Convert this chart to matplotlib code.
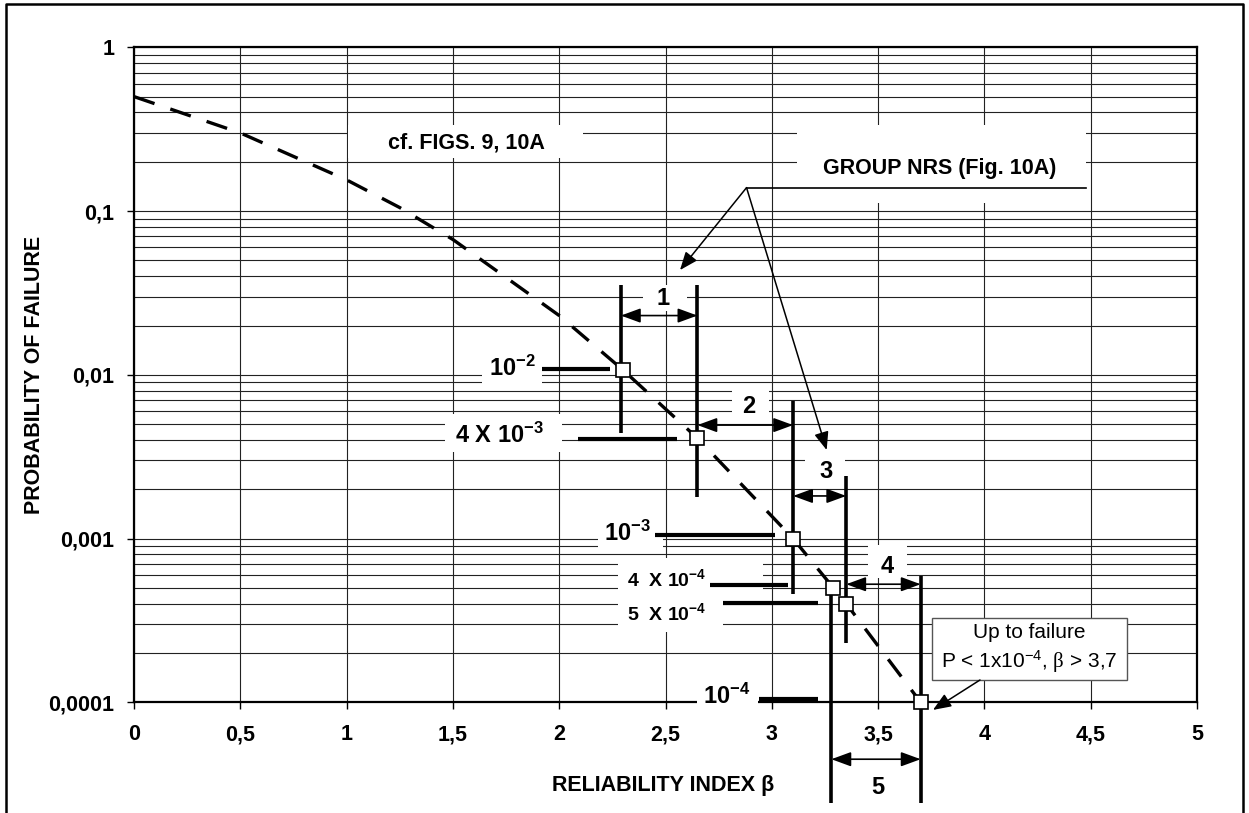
import numpy as np
import matplotlib
matplotlib.use("Agg")
import matplotlib.pyplot as plt
from matplotlib.patches import Rectangle
from matplotlib.lines import Line2D
from matplotlib.ticker import LogLocator, NullFormatter

plt.rcParams['font.family'] = ['Liberation Sans', 'DejaVu Sans']
plt.rcParams['mathtext.fontset'] = 'custom'
plt.rcParams['mathtext.rm'] = 'Liberation Sans'
plt.rcParams['mathtext.bf'] = 'Liberation Sans:bold'
plt.rcParams['mathtext.it'] = 'Liberation Sans:italic'
plt.rcParams['mathtext.sf'] = 'Liberation Serif'

## data
# dashed Pf(beta) curve
curve_beta = [0, 0.5, 1.0, 1.25, 1.5, 2.0, 2.3, 2.65, 3.1, 3.35, 3.7]
curve_pf = [0.5, 0.3, 0.155, 0.105, 0.067, 0.023, 0.0107, 0.0041, 0.001, 0.0004, 0.0001]

# target points (open squares)
point_beta = [2.3, 2.65, 3.1, 3.29, 3.35, 3.7]
point_pf = [0.0107, 0.0041, 0.001, 0.0005, 0.0004, 0.0001]

# target labels and their leader bars
target_labels = [r'$\mathbf{10^{-2}}$', r'$\mathbf{4\ X\ 10^{-3}}$', r'$\mathbf{10^{-3}}$',
                 r'$\mathbf{4\ \ X\ 10^{-4}}$', r'$\mathbf{5\ \ X\ 10^{-4}}$', r'$\mathbf{10^{-4}}$']
label_size = [17, 17, 17, 14, 14, 17]
label_beta = [1.778, 1.717, 2.319, 2.507, 2.507, 2.789]
label_pf = [0.0110, 0.00428, 0.00108, 0.000566, 0.000351, 0.000108]
leader_x0 = [1.917, 2.087, 2.451, 2.709, 2.772, 2.94]
leader_x1 = [2.238, 2.552, 3.016, 3.075, 3.216, 3.215]
leader_pf = [0.0108, 0.00403, 0.00105, 0.00052, 0.000402, 0.000105]

# group boundaries (thick verticals)
bound_beta = [2.29, 2.65, 3.1, 3.35, 3.28, 3.7]
bound_lo = [0.00443, 0.0018, 0.000457, 0.000231, 2.44e-5, 2.44e-5]
bound_hi = [0.0353, 0.0353, 0.00695, 0.0024, 0.000508, 0.00059]

# groups 1..5
groups = ['1', '2', '3', '4', '5']
group_from = [2.29, 2.65, 3.1, 3.35, 3.28]
group_to = [2.65, 3.1, 3.35, 3.7, 3.7]
group_arrow_pf = [0.023, 0.00493, 0.00182, 0.000526, 4.49e-5]
group_label_beta = [2.488, 2.893, 3.253, 3.542, 3.4995]
group_label_pf = [0.0294, 0.00636, 0.00256, 0.000679, 3.0e-5]

# white boxes behind the labels: beta0, beta1, pf_lo, pf_hi
label_boxes = [
    (1.007, 2.112, 0.2109, 0.3354),    # cf. FIGS
    (3.119, 4.478, 0.112, 0.335),      # GROUP NRS
    (1.637, 1.919, 0.00867, 0.01378),  # 10^-2
    (1.463, 2.013, 0.00338, 0.00577),  # 4 X 10^-3
    (2.394, 2.601, 0.02455, 0.0353),   # 1
    (2.813, 2.987, 0.00537, 0.00855),  # 2
    (3.156, 3.345, 0.002094, 0.003475),  # 3
    (3.452, 3.636, 0.000574, 0.000914),  # 4
    (2.183, 2.488, 0.000828, 0.001393),  # 10^-3
    (2.277, 2.959, 0.000485, 0.00076),   # 4 X 10^-4
    (2.277, 2.771, 0.000269, 0.000485),  # 5 X 10^-4
    (2.648, 2.935, 8.75e-5, 0.0001368),  # 10^-4
]

x_ticks = [0, 0.5, 1, 1.5, 2, 2.5, 3, 3.5, 4, 4.5, 5]
x_ticklabels = ['0', '0,5', '1', '1,5', '2', '2,5', '3', '3,5', '4', '4,5', '5']
y_ticks = [1e-4, 1e-3, 1e-2, 1e-1, 1]
y_ticklabels = ['0,0001', '0,001', '0,01', '0,1', '1']

fig = plt.figure(figsize=(12.49, 8.13), dpi=100)
ax = fig.add_axes([0.1073, 0.1362, 0.8511, 0.8056])

ax.set_yscale('log')
ax.set_xlim(0, 5)
ax.set_ylim(1e-4, 1)
ax.set_xticks(x_ticks)
ax.set_xticklabels(x_ticklabels, fontweight='bold')
ax.set_yticks(y_ticks)
ax.set_yticklabels(y_ticklabels, fontweight='bold')
ax.yaxis.set_minor_locator(LogLocator(base=10, subs=np.arange(2, 10)))
ax.yaxis.set_minor_formatter(NullFormatter())
ax.tick_params(which='major', length=5, width=1, direction='out', labelsize=15.5)
ax.tick_params(axis='y', which='minor', length=0)
ax.tick_params(axis='y', pad=9)
ax.tick_params(axis='x', pad=11)
ax.grid(True, which='major', color='#222222', lw=0.8)
ax.grid(True, which='minor', axis='y', color='#222222', lw=0.8)
for sp in ax.spines.values():
    sp.set_linewidth(1.6)

for b0, b1, lo, hi in label_boxes:
    ax.add_patch(Rectangle((b0, lo), b1 - b0, hi - lo, facecolor='white',
                           edgecolor='none', zorder=3, clip_on=False))

ax.plot(curve_beta, curve_pf, color='k', lw=2.4, dashes=(6.5, 5), zorder=4)

ax.vlines(bound_beta, bound_lo, bound_hi, colors='k', lw=2.6, zorder=4, clip_on=False)
ax.hlines(leader_pf, leader_x0, leader_x1, colors='k', lw=3, zorder=4, clip_on=False)

for txt, xb, yp, fs in zip(target_labels, label_beta, label_pf, label_size):
    ax.text(xb, yp, txt, fontsize=fs, ha='center', va='center', zorder=5)

for g, x0, x1, yp, lx, ly in zip(groups, group_from, group_to, group_arrow_pf,
                                 group_label_beta, group_label_pf):
    ax.annotate('', xy=(x1, yp), xytext=(x0, yp), annotation_clip=False, zorder=5,
                arrowprops=dict(arrowstyle='<|-|>,head_length=0.6,head_width=0.22',
                                mutation_scale=20, color='k', lw=1.2,
                                shrinkA=0, shrinkB=0))
    ax.text(lx, ly, g, fontsize=17, fontweight='bold', ha='center', va='center',
            zorder=5, clip_on=False)

ax.plot(point_beta, point_pf, 's', ms=10.5, mfc='white', mec='k', mew=1.2,
        zorder=6, clip_on=False)

# callouts
ax.text(1.562, 0.26, 'cf. FIGS. 9, 10A', fontsize=15.5, fontweight='bold',
        ha='center', va='center', zorder=5)
ax.text(3.791, 0.183, 'GROUP NRS (Fig. 10A)', fontsize=15.5, fontweight='bold',
        ha='center', va='center', zorder=5)
ax.plot([2.881, 4.478], [0.139, 0.139], color='k', lw=1.2, zorder=5)
for tx, ty in [(2.568, 0.0436), (3.258, 0.00347)]:
    ax.annotate('', xy=(tx, ty), xytext=(2.881, 0.139), zorder=5,
                arrowprops=dict(arrowstyle='-|>,head_length=0.55,head_width=0.22',
                                mutation_scale=20, color='k', lw=1.1,
                                shrinkA=0, shrinkB=0))

ax.add_patch(Rectangle((3.753, 0.0001368), 4.671 - 3.753, 0.000327 - 0.0001368,
                       facecolor='white', edgecolor='#555555', lw=1, zorder=5))
ax.text(4.212, 0.0002116, 'Up to failure\nP < 1x10$^{-4}$, $\\mathsf{\\beta}$ > 3,7',
        fontsize=15, ha='center', va='center', zorder=6, linespacing=1.3)
ax.annotate('', xy=(3.758, 8.98e-5), xytext=(3.979, 0.0001368), annotation_clip=False,
            zorder=6, arrowprops=dict(arrowstyle='-|>,head_length=0.55,head_width=0.22',
                                      mutation_scale=20, color='k', lw=1.1,
                                      shrinkA=0, shrinkB=0))

fig.text(35 / 1249, 1 - 375 / 813, 'PROBABILITY OF FAILURE', rotation=90,
         ha='center', va='center', fontsize=15.5, fontweight='bold')
fig.text(663 / 1249, 1 - 785 / 813, 'RELIABILITY INDEX β',
         ha='center', va='center', fontsize=15.5, fontweight='bold')

# frame around the whole figure
fig.add_artist(Line2D([0.0048, 0.0048, 0.9952, 0.9952], [-0.01, 0.995, 0.995, -0.01],
                      transform=fig.transFigure, color='k', lw=1.8))

fig.savefig('out.png', dpi=100)
